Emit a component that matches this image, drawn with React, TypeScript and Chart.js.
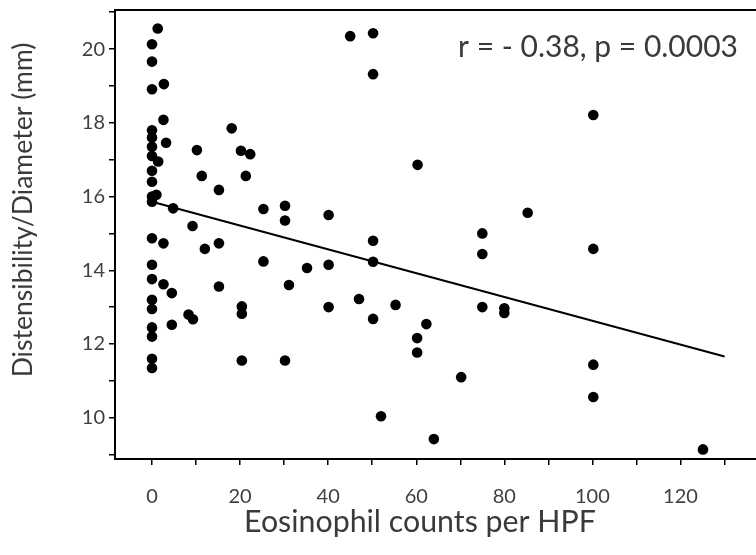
import { useEffect, useRef } from "react";
import { Chart, registerables } from "chart.js";

Chart.register(...registerables);

// Eosinophil counts per HPF (x) and Distensibility/Diameter in mm (y)
const eosinophilCounts = [
  0, 0, 0, 0, 0, 0, 0, 0, 0, 0, 0, 0, 0, 0, 0, 0, 0, 0, 0, 0,
  1.3, 1.4, 1, 2.7, 2.6, 3.2, 2.6, 2.6,
  4.5, 4.5, 4.8, 8.3, 9.3, 9.2, 10.2, 11.3, 12,
  15.2, 15.2, 15.2, 18.1, 20.2, 22.3, 21.3, 20.4, 20.4, 20.4,
  25.3, 25.3, 30.2, 30.2, 31.1, 30.2, 35.2,
  40.1, 40.1, 40.1, 45, 47,
  50.2, 50.2, 50.2, 50.2, 50.2, 52, 55.3,
  60.3, 60.2, 60.2, 62.3, 64, 70.2,
  75, 75, 75, 80, 80, 85.3,
  100.2, 100.2, 100.2, 100.2, 125.1,
];
const distensibility = [
  20.13, 19.66, 18.91, 17.8, 17.6, 17.35, 17.1, 16.7, 16.4, 16.0, 15.86, 14.87, 14.15, 13.76, 13.2, 12.95, 12.45, 12.2, 11.6, 11.35,
  20.56, 16.95, 16.05, 19.05, 18.08, 17.46, 14.73, 13.62,
  13.38, 12.52, 15.68, 12.8, 12.67, 15.2, 17.26, 16.56, 14.58,
  16.18, 14.73, 13.56, 17.85, 17.24, 17.15, 16.56, 13.02, 12.82, 11.55,
  15.66, 14.24, 15.75, 15.35, 13.6, 11.55, 14.06,
  15.5, 14.15, 13.0, 20.35, 13.22,
  20.43, 19.32, 14.8, 14.23, 12.68, 10.04, 13.06,
  16.86, 12.16, 11.77, 12.54, 9.42, 11.1,
  15.0, 14.44, 13.0, 12.97, 12.84, 15.56,
  18.21, 14.58, 11.44, 10.56, 9.14,
];

// Regression line end points
const fitX = [0, 130];
const fitY = [15.86, 11.66];

const xTickValues = [0, 10, 20, 30, 40, 50, 60, 70, 80, 90, 100, 110, 120, 130];
const xLabelValues = [0, 20, 40, 60, 80, 100, 120];
const yTickValues = [9, 10, 11, 12, 13, 14, 15, 16, 17, 18, 19, 20, 21];
const yLabelValues = [10, 12, 14, 16, 18, 20];

const xTitle = "Eosinophil counts per HPF";
const yTitle = "Distensibility/Diameter (mm)";
const statText = "r = - 0.38, p = 0.0003";

const FONT = "Lato, 'Open Sans', sans-serif";
const TEXT_COLOR = "#3a3a3a";

const textPlugin = {
  id: "chartTexts",
  afterDraw(chart: any) {
    const ctx = chart.ctx as CanvasRenderingContext2D;
    const { left, top } = chart.chartArea;
    ctx.save();
    // top frame line
    ctx.strokeStyle = "#000";
    ctx.lineWidth = 2;
    ctx.beginPath();
    ctx.moveTo(left - 1, top);
    ctx.lineTo(chart.width, top);
    ctx.stroke();

    const fit = (text: string, width: number) => {
      ctx.font = `100px ${FONT}`;
      const w = ctx.measureText(text).width;
      return (100 * width) / w;
    };
    ctx.fillStyle = TEXT_COLOR;
    ctx.textAlign = "center";
    ctx.textBaseline = "middle";

    // stats annotation
    ctx.font = `${fit(statText, 280)}px ${FONT}`;
    ctx.fillText(statText, 598, 47);

    // x title
    ctx.font = `${fit(xTitle, 352)}px ${FONT}`;
    ctx.fillText(xTitle, 420, 522);

    // y title
    ctx.font = `${fit(yTitle, 335)}px ${FONT}`;
    ctx.translate(23, 210);
    ctx.rotate(-Math.PI / 2);
    ctx.fillText(yTitle, 0, 0);
    ctx.restore();
  },
};

export default function App() {
  const ref = useRef<HTMLCanvasElement | null>(null);

  useEffect(() => {
    if (!ref.current) return;
    document.body.style.overflow = "hidden";
    const points = eosinophilCounts.map((x, i) => ({ x, y: distensibility[i] }));
    const line = fitX.map((x, i) => ({ x, y: fitY[i] }));
    const chart = new Chart(ref.current, {
      type: "scatter",
      data: {
        datasets: [
          {
            type: "line",
            data: line,
            borderColor: "#000",
            borderWidth: 2,
            pointRadius: 0,
            showLine: true,
            fill: false,
          } as any,
          {
            data: points,
            backgroundColor: "#000",
            borderWidth: 0,
            pointRadius: 5.3,
          },
        ],
      },
      options: {
        animation: false,
        responsive: true,
        maintainAspectRatio: false,
        events: [],
        layout: { padding: { top: 10, right: 0, bottom: 0, left: 0 } },
        plugins: {
          legend: { display: false },
          tooltip: { enabled: false },
        },
        scales: {
          x: {
            type: "linear",
            min: -8.4,
            max: 137.3,
            border: { display: true, color: "#000", width: 2 },
            grid: {
              display: true,
              drawOnChartArea: false,
              drawTicks: true,
              tickLength: 6,
              tickColor: "#000",
              lineWidth: 1.5,
            },
            afterBuildTicks: (scale: any) => {
              scale.ticks = xTickValues.map((v) => ({ value: v }));
            },
            afterFit: (scale: any) => {
              scale.height = 96;
              scale.paddingLeft = 0;
              scale.paddingRight = 0;
            },
            ticks: {
              autoSkip: false,
              maxRotation: 0,
              padding: 20,
              color: "#404040",
              font: { family: FONT, size: 20 },
              callback: (v: any) => (xLabelValues.includes(Number(v)) ? String(v) : ""),
            },
          },
          y: {
            type: "linear",
            min: 8.88,
            max: 21.06,
            border: { display: true, color: "#000", width: 2 },
            grid: {
              display: true,
              drawOnChartArea: false,
              drawTicks: true,
              tickLength: 6,
              tickColor: "#000",
              lineWidth: 1.5,
            },
            afterBuildTicks: (scale: any) => {
              scale.ticks = yTickValues.map((v) => ({ value: v }));
            },
            afterFit: (scale: any) => {
              scale.width = 115;
              scale.paddingTop = 0;
              scale.paddingBottom = 0;
            },
            ticks: {
              autoSkip: false,
              padding: 4,
              color: "#404040",
              font: { family: FONT, size: 20 },
              callback: (v: any) => (yLabelValues.includes(Number(v)) ? String(v) : ""),
            },
          },
        },
      },
      plugins: [textPlugin],
    });
    return () => chart.destroy();
  }, []);

  return (
    <div
      style={{
        position: "fixed",
        left: 0,
        top: 0,
        width: 762,
        height: 555,
        background: "#fff",
      }}
    >
      <canvas ref={ref} />
    </div>
  );
}
